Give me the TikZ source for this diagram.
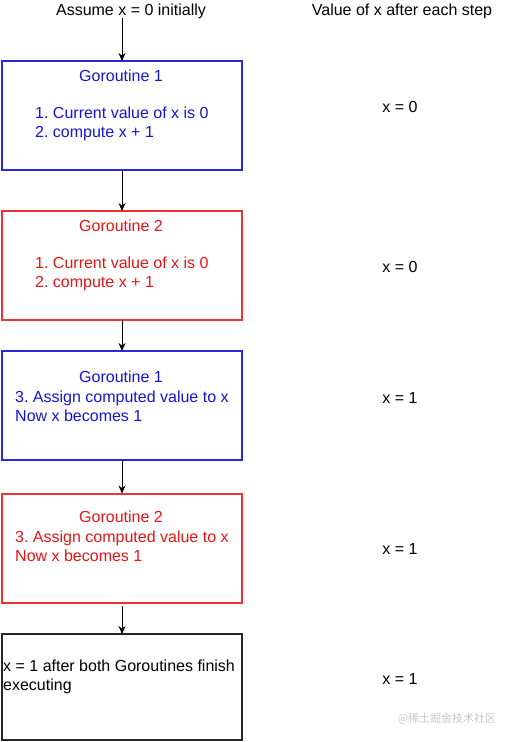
\documentclass[tikz,border=0pt]{standalone}
\usepackage{fontspec}
\setmainfont{Liberation Sans}
\newfontfamily\cjk{Noto Sans CJK SC}
\usetikzlibrary{arrows.meta}
\definecolor{blborder}{RGB}{40,40,225}
\definecolor{bltext}{RGB}{20,20,215}
\definecolor{rdborder}{RGB}{240,50,50}
\definecolor{rdtext}{RGB}{230,20,20}
\definecolor{wmark}{RGB}{200,200,200}
\frenchspacing
\tikzset{
  gbox/.style={draw, line width=2pt, minimum width=240pt, minimum height=109pt, anchor=north west, inner sep=0pt, outer sep=0pt},
  txt/.style={font=\fontsize{16}{19.2}\selectfont, inner sep=0pt},
  ltxt/.style={txt, anchor=west, align=left},
  arr/.style={-{Stealth[length=8pt,width=7pt]}, line width=0.8pt, black},
}
\begin{document}
\begin{tikzpicture}[x=1pt,y=-1pt]
\useasboundingbox (0,0) rectangle (512,742);
% titles
\node[txt] (t1) at (131,11) {Assume x = 0 initially};
\node[txt] (t2) at (402,11) {Value of x after each step};
% boxes
\node[gbox, draw=blborder] (b1) at (2,61) {};
\node[gbox, draw=rdborder] (b2) at (2,211) {};
\node[gbox, draw=blborder] (b3) at (2,351) {};
\node[gbox, draw=rdborder] (b4) at (2,493.5) {};
\node[gbox, draw=black!85, minimum height=106pt] (b5) at (2,634) {};
% box 1 text
\node[txt, text=bltext] (g1) at (121,76) {Goroutine 1};
\node[ltxt, text=bltext] (g1a) at (35,123.5) {1. Current value of x is 0\\2. compute x + 1};
% box 2 text
\node[txt, text=rdtext] (g2) at (121,226) {Goroutine 2};
\node[ltxt, text=rdtext] (g2a) at (35,273.5) {1. Current value of x is 0\\2. compute x + 1};
% box 3 text
\node[txt, text=bltext] (g3) at (121,377) {Goroutine 1};
\node[ltxt, text=bltext] (g3a) at (15,406.5) {3. Assign computed value to x\\Now x becomes 1};
% box 4 text
\node[txt, text=rdtext] (g4) at (121,517) {Goroutine 2};
\node[ltxt, text=rdtext] (g4a) at (15,546.5) {3. Assign computed value to x\\Now x becomes 1};
% box 5 text
\node[ltxt] (g5) at (3,676.5) {x = 1 after both Goroutines finish\\executing};
% values
\node[txt] (v1) at (400,107) {x = 0};
\node[txt] (v2) at (400,267) {x = 0};
\node[txt] (v3) at (400,398) {x = 1};
\node[txt] (v4) at (400,549) {x = 1};
\node[txt] (v5) at (400,679) {x = 1};
% watermark
\node[inner sep=0pt, text=wmark, font=\cjk\fontsize{11}{13}\selectfont] (wm) at (447,719) {@稀土掘金技术社区};
% arrows
\draw[arr] (b1.north |- t1.south) ++(0,-1) -- (b1.north);
\draw[arr] (b1.south) -- (b2.north);
\draw[arr] (b2.south) -- (b3.north);
\draw[arr] (b3.south) -- (b4.north);
\draw[arr] (b4.south) ++(0,3) -- (b5.north);
\end{tikzpicture}
\end{document}
